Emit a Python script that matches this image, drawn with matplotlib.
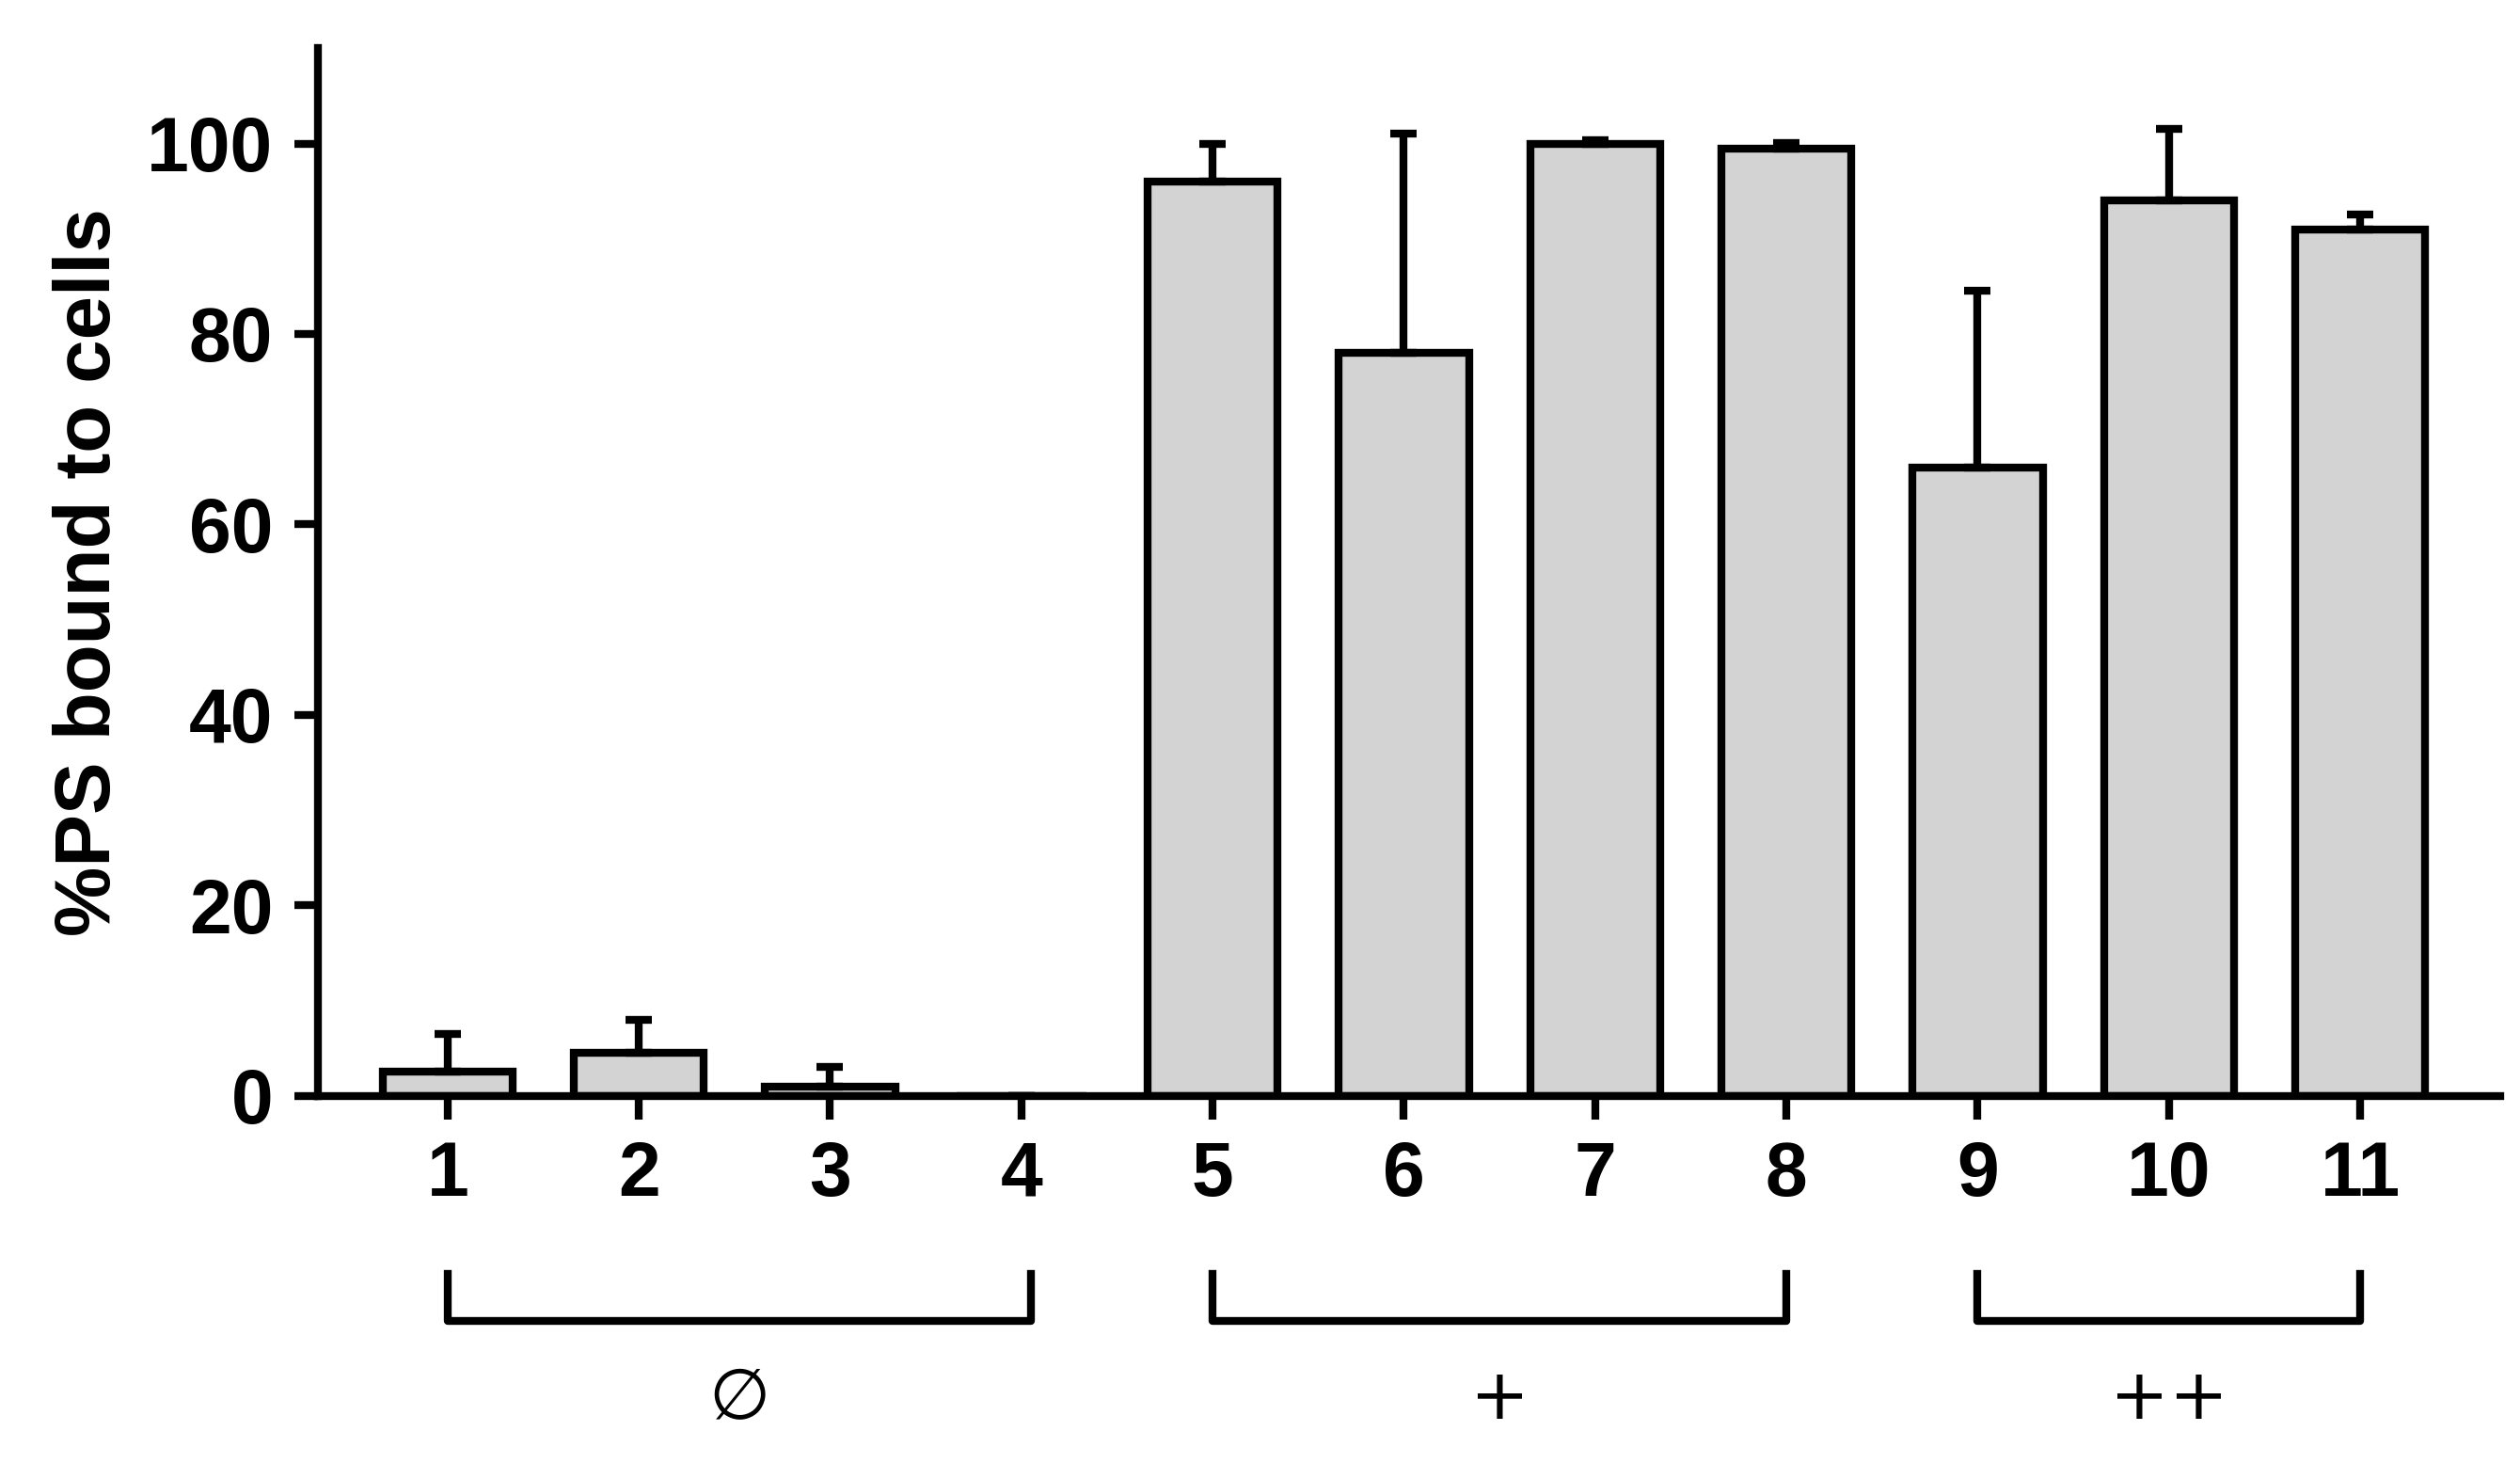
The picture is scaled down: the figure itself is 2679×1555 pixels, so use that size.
import matplotlib
matplotlib.use("Agg")
import matplotlib.pyplot as plt
from matplotlib.transforms import blended_transform_factory

categories = ["1","2","3","4","5","6","7","8","9","10","11"]
values = [2.5, 4.5, 1.0, 0.0, 96, 78, 100, 99.5, 66, 94, 91]
errors = [4.0, 3.5, 2.0, 0.0, 4.0, 23.0, 0.3, 0.6, 18.5, 7.5, 1.5]
groups = [("\u2205", 1, 4), ("+", 5, 8), ("++", 9, 11)]

plt.rcParams['font.family'] = ['Liberation Sans', 'DejaVu Sans']
fig = plt.figure(figsize=(26.79, 15.55), dpi=100)
ax = fig.add_axes([0.126, 0.251, 0.866, 0.716])
x = list(range(1, len(categories) + 1))
lw = 6
ax.bar(x, values, width=0.68, color='#d3d3d3', edgecolor='black', linewidth=lw, zorder=2)
ax.errorbar(x, values, yerr=[[0]*len(x), errors], fmt='none', ecolor='black',
            elinewidth=lw, capsize=10, capthick=lw, zorder=3)
ax.set_xlim(0.32, 11.73)
ax.set_ylim(0, 110)
ax.set_yticks([0, 20, 40, 60, 80, 100])
ax.set_xticks(x)
ax.set_xticklabels(categories)
for s in ['top', 'right']:
    ax.spines[s].set_visible(False)
for s in ['left', 'bottom']:
    ax.spines[s].set_linewidth(lw)
ax.tick_params(width=lw, length=18, labelsize=58, pad=16)
for t in ax.get_xticklabels() + ax.get_yticklabels():
    t.set_fontweight('bold')
ax.set_ylabel("%PS bound to cells", fontsize=60, fontweight='bold', labelpad=16)

tr = blended_transform_factory(ax.transData, ax.transAxes)
for lab, a, b in groups:
    y0, y1 = -0.17, -0.215
    bb = b + (0.05 if b == 4 else 0)
    ax.plot([a, a, bb, bb], [y0, y1, y1, y0], color='black', lw=lw,
            transform=tr, clip_on=False)
    ax.text((a + bb) / 2, -0.29, lab, transform=tr,
            ha='center', va='center', fontsize=54, family=['DejaVu Sans'])
fig.savefig("out.png", dpi=100)
